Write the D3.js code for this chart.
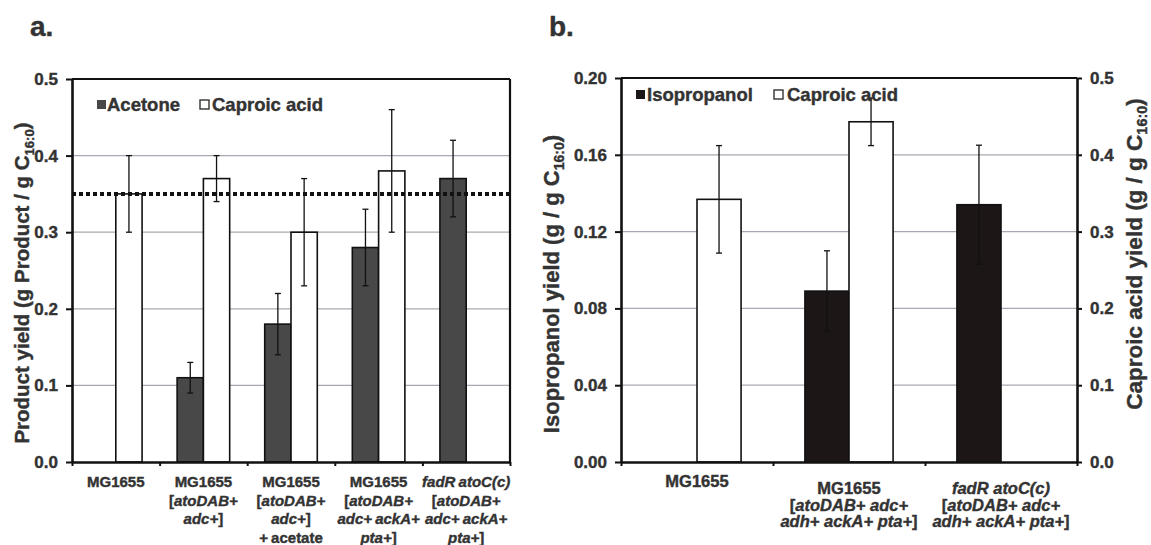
<!DOCTYPE html>
<html>
<head>
<meta charset="utf-8">
<script src="https://cdn.jsdelivr.net/npm/d3@7"></script>
<style>
    body { margin: 0; background: #fff; }
    svg text { font-family: "Liberation Sans", Arial, sans-serif; font-weight: bold; fill: #333; stroke: #333; stroke-width: 0.4px; }
</style>
</head>
<body>
<script>
// ---- data: panel a ----
// segments between underscores are italic
let labelsA = [
    ["MG1655"],
    ["MG1655", "[_atoDAB+_", "_adc+_]"],
    ["MG1655", "[_atoDAB+_", "_adc+_]", "+ acetate"],
    ["MG1655", "[_atoDAB+_", "_adc+ ackA+_", "_pta+_]"],
    ["_fadR atoC(c)_", "[_atoDAB+_", "_adc+ ackA+_", "_pta+_]"]
];
let acetone = [null, 0.11, 0.18, 0.28, 0.37];
let acetoneErr = [null, 0.02, 0.04, 0.05, 0.05];
let caproicA = [0.35, 0.37, 0.30, 0.38, null];
let caproicAErr = [0.05, 0.03, 0.07, 0.08, null];
let baselineA = 0.35;
let ticksA = [0, 0.1, 0.2, 0.3, 0.4, 0.5];

// ---- data: panel b ----
let labelsB = [
    ["MG1655"],
    ["MG1655", "[_atoDAB+ adc+_", "_adh+ ackA+ pta+_]"],
    ["_fadR atoC(c)_", "[_atoDAB+ adc+_", "_adh+ ackA+ pta+_]"]
];
let isopropanol = [null, 0.089, 0.134];
let isopropanolErr = [null, 0.021, 0.031];
let caproicB = [0.342, 0.443, null];
let caproicBErr = [0.07, 0.031, null];
let ticksBLeft = [0, 0.04, 0.08, 0.12, 0.16, 0.20];
let ticksBRight = [0, 0.1, 0.2, 0.3, 0.4, 0.5];

let svg = d3.select("body").append("svg")
    .attr("width", 1151)
    .attr("height", 545);

svg.append("text").attr("x", 30).attr("y", 36).style("font-size", "28px").text("a.");
svg.append("text").attr("x", 549).attr("y", 36).style("font-size", "28px").text("b.");

function addRichText(sel, str) {
    str.split("_").forEach(function(part, i) {
        if (part === "") return;
        sel.append("tspan").style("font-style", i % 2 ? "italic" : "normal").text(part);
    });
}

function drawGrid(g, y, ticks, x0, x1) {
    g.selectAll(".grid").data(ticks.slice(1, -1)).enter().append("line")
        .attr("x1", x0).attr("x2", x1)
        .attr("y1", d => y(d)).attr("y2", d => y(d))
        .attr("stroke", "#a8a8b2").attr("stroke-width", 1.3);
}

function drawBars(g, x, y, values, errs, side, fill, barW) {
    let idx = d3.range(values.length).filter(i => values[i] != null);
    let bx = i => x(i) + x.bandwidth() / 2 + (side < 0 ? -barW : 0);
    g.selectAll(null).data(idx).enter().append("rect")
        .attr("x", bx)
        .attr("width", barW)
        .attr("y", i => y(values[i]))
        .attr("height", i => y(0) - y(values[i]))
        .attr("fill", fill)
        .attr("stroke", "#111")
        .attr("stroke-width", 1.6);
    let cx = i => bx(i) + barW / 2;
    let eb = g.selectAll(null).data(idx.filter(i => errs[i])).enter().append("g")
        .attr("stroke", "#111").attr("stroke-width", 1.3);
    eb.append("line").attr("x1", cx).attr("x2", cx)
        .attr("y1", i => y(values[i] + errs[i])).attr("y2", i => y(values[i] - errs[i]));
    eb.append("line").attr("x1", i => cx(i) - 3).attr("x2", i => cx(i) + 3)
        .attr("y1", i => y(values[i] + errs[i])).attr("y2", i => y(values[i] + errs[i]));
    eb.append("line").attr("x1", i => cx(i) - 3).attr("x2", i => cx(i) + 3)
        .attr("y1", i => y(values[i] - errs[i])).attr("y2", i => y(values[i] - errs[i]));
}

function styleAxis(a, fontSize) {
    a.select(".domain").attr("stroke", "#111").attr("stroke-width", 2.6);
    a.selectAll(".tick line").attr("stroke", "#111").attr("stroke-width", 2);
    a.selectAll("text").style("font-size", fontSize).style("font-family", null).attr("fill", "#333");
}

function drawXLabels(g, x, labels, y0s, lineH, fontSize, wordSp) {
    labels.forEach(function(lines, i) {
        lines.forEach(function(line, j) {
            let t = g.append("text")
                .attr("x", x(i) + x.bandwidth() / 2)
                .attr("y", y0s[i] + j * lineH)
                .attr("text-anchor", "middle")
                .style("font-size", fontSize)
                .style("word-spacing", wordSp);
            addRichText(t, line);
        });
    });
}

function drawBottom(g, n, x0, x1, yb) {
    let xi = d3.scaleLinear().domain([0, n]).range([x0, x1]);
    let a = g.append("g").attr("transform", "translate(0," + yb + ")")
        .call(d3.axisBottom(xi).tickValues(d3.range(n + 1)).tickFormat("").tickSize(4).tickSizeOuter(0));
    styleAxis(a, "0px");
}

function yTitle(g, cx, cy, size, main, sub, tail) {
    let t = g.append("text")
        .attr("transform", "translate(" + cx + "," + cy + ") rotate(-90)")
        .attr("text-anchor", "middle")
        .style("font-size", size + "px");
    t.append("tspan").text(main);
    t.append("tspan").attr("dy", size * 0.22).style("font-size", (size * 0.64) + "px").text(sub);
    t.append("tspan").attr("dy", -size * 0.22).text(tail);
}

// ---------- panel a ----------
(function() {
    let left = 72, right = 510, top = 79, bottom = 462;
    let g = svg.append("g");
    let x = d3.scaleBand().domain(d3.range(labelsA.length)).range([left, right]);
    let y = d3.scaleLinear().domain([0, 0.5]).range([bottom, top]);
    let barW = x.bandwidth() * 0.3;

    drawGrid(g, y, ticksA, left, right);
    drawBars(g, x, y, acetone, acetoneErr, -1, "#484848", barW);
    drawBars(g, x, y, caproicA, caproicAErr, 1, "#fff", barW);

    g.append("line")
        .attr("x1", left).attr("x2", right)
        .attr("y1", y(baselineA)).attr("y2", y(baselineA))
        .attr("stroke", "#111").attr("stroke-width", 4)
        .attr("stroke-dasharray", "4,3");

    g.append("line").attr("x1", left).attr("x2", right).attr("y1", top).attr("y2", top)
        .attr("stroke", "#111").attr("stroke-width", 2.2);
    g.append("line").attr("x1", right).attr("x2", right).attr("y1", top).attr("y2", bottom)
        .attr("stroke", "#111").attr("stroke-width", 2.2);

    let ax = g.append("g").attr("transform", "translate(" + left + ",0)")
        .call(d3.axisLeft(y).tickValues(ticksA).tickFormat(d3.format(".1f")).tickSize(6).tickSizeOuter(0).tickPadding(8));
    styleAxis(ax, "17px");
    drawBottom(g, labelsA.length, left, right, bottom);

    drawXLabels(g, x, labelsA, [487, 487, 487, 487, 487], 18.6, "15px", "-1px");

    // legend
    g.append("rect").attr("x", 97).attr("y", 100).attr("width", 9).attr("height", 9).attr("fill", "#484848");
    g.append("text").attr("x", 107).attr("y", 111).style("font-size", "18.5px").text("Acetone");
    g.append("rect").attr("x", 200).attr("y", 100).attr("width", 9).attr("height", 9)
        .attr("fill", "#fff").attr("stroke", "#333").attr("stroke-width", 1.4);
    g.append("text").attr("x", 212).attr("y", 111).style("font-size", "18.5px").text("Caproic acid");

    yTitle(g, 29, 283, 20.5, "Product yield (g Product / g C", "16:0", ")");
})();

// ---------- panel b ----------
(function() {
    let left = 621, right = 1077, top = 78, bottom = 462;
    let g = svg.append("g");
    let x = d3.scaleBand().domain(d3.range(labelsB.length)).range([left, right]);
    let yL = d3.scaleLinear().domain([0, 0.20]).range([bottom, top]);
    let yR = d3.scaleLinear().domain([0, 0.5]).range([bottom, top]);
    let barW = x.bandwidth() * 0.29;

    drawGrid(g, yL, ticksBLeft, left, right);
    drawBars(g, x, yL, isopropanol, isopropanolErr, -1, "#1c1616", barW);
    drawBars(g, x, yR, caproicB, caproicBErr, 1, "#fff", barW);

    g.append("line").attr("x1", left).attr("x2", right).attr("y1", top).attr("y2", top)
        .attr("stroke", "#111").attr("stroke-width", 2.2);

    let axL = g.append("g").attr("transform", "translate(" + left + ",0)")
        .call(d3.axisLeft(yL).tickValues(ticksBLeft).tickFormat(d3.format(".2f")).tickSize(6).tickSizeOuter(0).tickPadding(8));
    styleAxis(axL, "17px");
    let axR = g.append("g").attr("transform", "translate(" + right + ",0)")
        .call(d3.axisRight(yR).tickValues(ticksBRight).tickFormat(d3.format(".1f")).tickSize(5).tickSizeOuter(0).tickPadding(8));
    styleAxis(axR, "17px");
    drawBottom(g, labelsB.length, left, right, bottom);

    drawXLabels(g, x, labelsB, [487, 494, 494], 16.7, "16.5px", "0px");

    // legend
    g.append("rect").attr("x", 636).attr("y", 90).attr("width", 9).attr("height", 9).attr("fill", "#1c1616");
    g.append("text").attr("x", 647).attr("y", 101).style("font-size", "18.5px").text("Isopropanol");
    g.append("rect").attr("x", 774).attr("y", 90).attr("width", 9).attr("height", 9)
        .attr("fill", "#fff").attr("stroke", "#333").attr("stroke-width", 1.4);
    g.append("text").attr("x", 787).attr("y", 101).style("font-size", "18.5px").text("Caproic acid");

    yTitle(g, 559, 284, 22, "Isopropanol yield (g / g C", "16:0", ")");
    yTitle(g, 1142, 254, 22.5, "Caproic acid yield (g / g C", "16:0", ")");
})();
</script>
</body>
</html>
